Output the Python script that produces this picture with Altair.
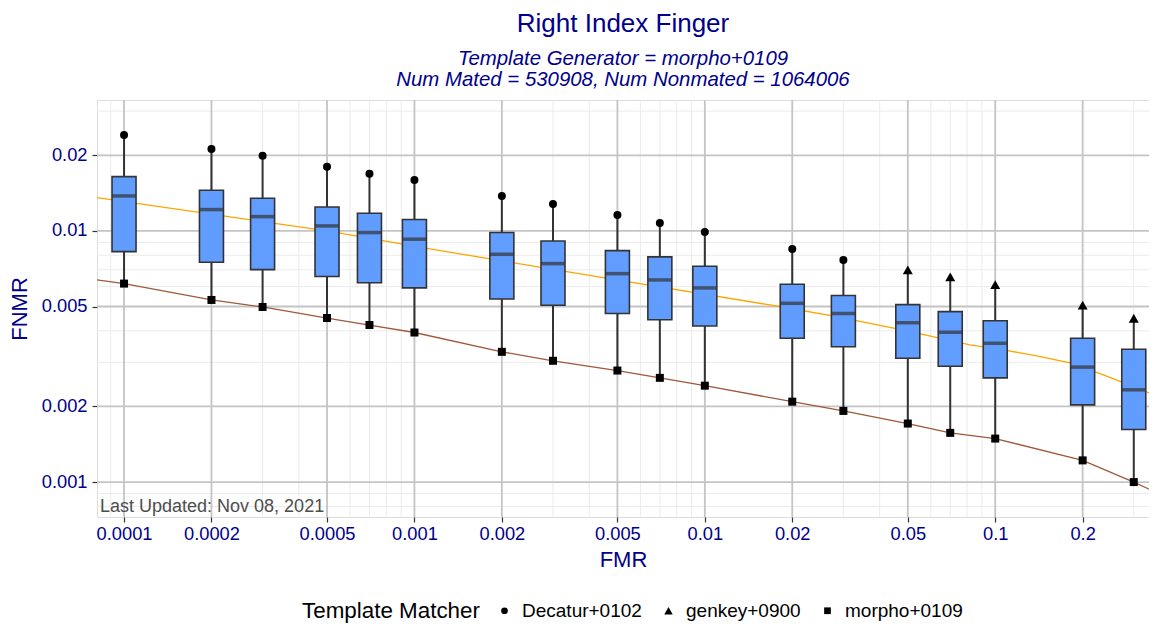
import altair as alt
import pandas as pd

FONT = "Liberation Sans"

# ---- data ----
fmr = [0.0001, 0.0002, 0.0003, 0.0005, 0.0007, 0.001, 0.002, 0.003, 0.005,
       0.007, 0.01, 0.02, 0.03, 0.05, 0.07, 0.1, 0.2, 0.3]
upper_point = [0.0241, 0.0212, 0.0199, 0.0180, 0.0169, 0.01596, 0.01378, 0.0128,
               0.01158, 0.01076, 0.00991, 0.00848, 0.00766, 0.0070, 0.00656,
               0.00611, 0.00506, 0.00449]
upper_matcher = ["Decatur+0102"] * 13 + ["genkey+0900"] * 5
q3 = [0.01645, 0.01452, 0.01349, 0.01246, 0.01176, 0.0111, 0.00985, 0.00912,
      0.00835, 0.00788, 0.00723, 0.00613, 0.00553, 0.00509, 0.00477, 0.00439,
      0.00374, 0.00338]
median = [0.01378, 0.01216, 0.0114, 0.01047, 0.00985, 0.00927, 0.00807, 0.00741,
          0.00676, 0.00638, 0.00593, 0.00515, 0.00469, 0.00431, 0.00395, 0.00357,
          0.00287, 0.00233]
q1 = [0.00827, 0.0075, 0.00701, 0.00658, 0.00622, 0.00593, 0.00536, 0.00506,
      0.00469, 0.00443, 0.00418, 0.00374, 0.00346, 0.00311, 0.00289, 0.0026,
      0.00203, 0.00162]
morpho_point = [0.00617, 0.00531, 0.00498, 0.0045, 0.00422, 0.00394, 0.0033,
                0.00304, 0.00278, 0.0026, 0.00242, 0.00209, 0.00192, 0.00171,
                0.00157, 0.00149, 0.00122, 0.001]

orange_fmr = [0.0000807, 0.0005, 0.00113, 0.00425, 0.01828, 0.02844, 0.0483,
              0.0819, 0.1067, 0.139, 0.181, 0.2357, 0.307, 0.3605]
orange_fnmr = [0.01357, 0.0100, 0.00848, 0.00658, 0.00499, 0.00456, 0.00403,
               0.00352, 0.00336, 0.00318, 0.00298, 0.00267, 0.00237, 0.0022]

brown_fmr = [0.0000807, 0.0001, 0.0002, 0.0003, 0.0005, 0.0007, 0.001, 0.002,
             0.003, 0.005, 0.007, 0.01, 0.02, 0.03, 0.05, 0.07, 0.1, 0.2, 0.3,
             0.3605]
brown_fnmr = [0.00638, 0.00617, 0.00531, 0.00498, 0.0045, 0.00422, 0.00394,
              0.0033, 0.00304, 0.00278, 0.0026, 0.00242, 0.00209, 0.00192,
              0.00171, 0.00157, 0.00149, 0.00122, 0.001, 0.000906]

x_major = [0.0001, 0.0002, 0.0005, 0.001, 0.002, 0.005, 0.01, 0.02, 0.05, 0.1, 0.2]
x_minor = [0.00009, 0.0003, 0.0004, 0.0006, 0.0007, 0.0008, 0.0009, 0.003, 0.004,
           0.006, 0.007, 0.008, 0.009, 0.03, 0.04, 0.06, 0.07, 0.08, 0.09, 0.3]
y_major = [0.001, 0.002, 0.005, 0.01, 0.02]
y_minor = [0.0008, 0.0009, 0.003, 0.004, 0.006, 0.007, 0.008, 0.009, 0.03]

matchers = ["Decatur+0102", "genkey+0900", "morpho+0109"]
shapes = ["circle", "M0,-1.1L1.25,1.1L-1.25,1.1Z", "square"]

x_domain = [0.0000807, 0.3385]
y_domain = [0.000726, 0.03321]

# ---- tables ----
box_df = pd.DataFrame({"fmr": fmr, "top": upper_point, "q3": q3, "median": median,
                       "q1": q1, "bottom": morpho_point})
pts_df = pd.DataFrame({
    "fmr": fmr + fmr,
    "fnmr": upper_point + morpho_point,
    "matcher": upper_matcher + ["morpho+0109"] * len(fmr),
})
orange_df = pd.DataFrame({"fmr": orange_fmr, "fnmr": orange_fnmr})
brown_df = pd.DataFrame({"fmr": brown_fmr, "fnmr": brown_fnmr})

xs = alt.Scale(type="log", domain=x_domain, nice=False, zero=False, padding=0)
ys = alt.Scale(type="log", domain=y_domain, nice=False, zero=False, padding=0)

x_axis = alt.Axis(values=x_major, format="~g", title="FMR", grid=False,
                  labelColor="darkblue", titleColor="darkblue", labelFontSize=18.3,
                  titleFontSize=22, titleFontWeight="normal", tickColor="#333333",
                  tickSize=5, tickWidth=1.2, domain=False, labelPadding=3,
                  titlePadding=7, labelFlush=False, labelFont=FONT, titleFont=FONT)
y_axis = alt.Axis(values=y_major, format="~g", title="FNMR", grid=False,
                  labelColor="darkblue", titleColor="darkblue", labelFontSize=18.3,
                  titleFontSize=22, titleFontWeight="normal", tickColor="#333333",
                  tickSize=5, tickWidth=1.2, domain=False, labelPadding=5,
                  titlePadding=10, labelFont=FONT, titleFont=FONT)

X = lambda f: alt.X(f, type="quantitative", scale=xs, axis=x_axis)
Y = lambda f: alt.Y(f, type="quantitative", scale=ys, axis=y_axis)

gx_minor = alt.Chart(pd.DataFrame({"v": x_minor})).mark_rule(
    color="#ebebeb", strokeWidth=1).encode(x=X("v"))
gy_minor = alt.Chart(pd.DataFrame({"v": y_minor})).mark_rule(
    color="#ebebeb", strokeWidth=1).encode(y=Y("v"))
gx_major = alt.Chart(pd.DataFrame({"v": x_major})).mark_rule(
    color="#c4c4c4", strokeWidth=1.8).encode(x=X("v"))
gy_major = alt.Chart(pd.DataFrame({"v": y_major})).mark_rule(
    color="#c4c4c4", strokeWidth=1.8).encode(y=Y("v"))

orange = alt.Chart(orange_df).mark_line(color="orange", strokeWidth=1.3, clip=True).encode(
    x=X("fmr"), y=Y("fnmr"))
brown = alt.Chart(brown_df).mark_line(color="#a0583a", strokeWidth=1.3, clip=True).encode(
    x=X("fmr"), y=Y("fnmr"))

whisk = alt.Chart(box_df).mark_rule(color="#333333", strokeWidth=2).encode(
    x=X("fmr"), y=Y("bottom"), y2="top")
box = alt.Chart(box_df).mark_bar(size=24, color="#619CFF", stroke="#333333",
                                 strokeWidth=1.6).encode(
    x=X("fmr"), y=Y("q1"), y2="q3")
med = alt.Chart(box_df).mark_tick(orient="horizontal", size=24, thickness=3.5,
                                  color="#333333").encode(
    x=X("fmr"), y=Y("median"))

points = alt.Chart(pts_df).mark_point(filled=True, opacity=1, color="black",
                                      size=64).encode(
    x=X("fmr"), y=Y("fnmr"),
    shape=alt.Shape("matcher:N",
                    scale=alt.Scale(domain=matchers, range=shapes),
                    legend=alt.Legend(title="Template Matcher", orient="none",
                                      legendX=205, legendY=501,
                                      direction="horizontal", titleOrient="left",
                                      titleFontSize=22.4, titleFontWeight="normal",
                                      titleColor="black", titleFont=FONT,
                                      titlePadding=15, labelFontSize=19,
                                      labelFont=FONT, labelColor="black",
                                      labelOffset=8, columnPadding=17,
                                      symbolSize=45, symbolFillColor="black",
                                      symbolStrokeColor="black",
                                      titleBaseline="middle", titleAnchor="middle")),
)

note = alt.Chart(pd.DataFrame({"t": ["Last Updated: Nov 08, 2021"]})).mark_text(
    align="left", baseline="bottom", fontSize=18, color="#4d4d4d", font=FONT
).encode(x=alt.value(3), y=alt.value(416), text="t:N")

chart = alt.layer(
    gx_minor, gy_minor, gx_major, gy_major, orange, brown, whisk, box, med,
    points, note
).properties(
    width=1052, height=417,
    padding={"left": 89, "top": 92, "right": 0, "bottom": 106},
    autosize=alt.AutoSizeParams(type="none"),
    title=alt.TitleParams(
        "Right Index Finger",
        subtitle=["Template Generator = morpho+0109",
                  "Num Mated = 530908, Num Nonmated = 1064006"],
        fontSize=26, fontWeight="normal", color="darkblue", font=FONT,
        subtitleFontSize=20.4, subtitleFontStyle="italic", subtitleColor="darkblue",
        subtitleFont=FONT, subtitlePadding=12, subtitleLineHeight=21,
        anchor="middle", frame="group", offset=9),
).configure_view(stroke="#333333", strokeWidth=1.2).configure(background="white")

chart.save("out.html", embed_options={"renderer": "svg", "actions": False})
